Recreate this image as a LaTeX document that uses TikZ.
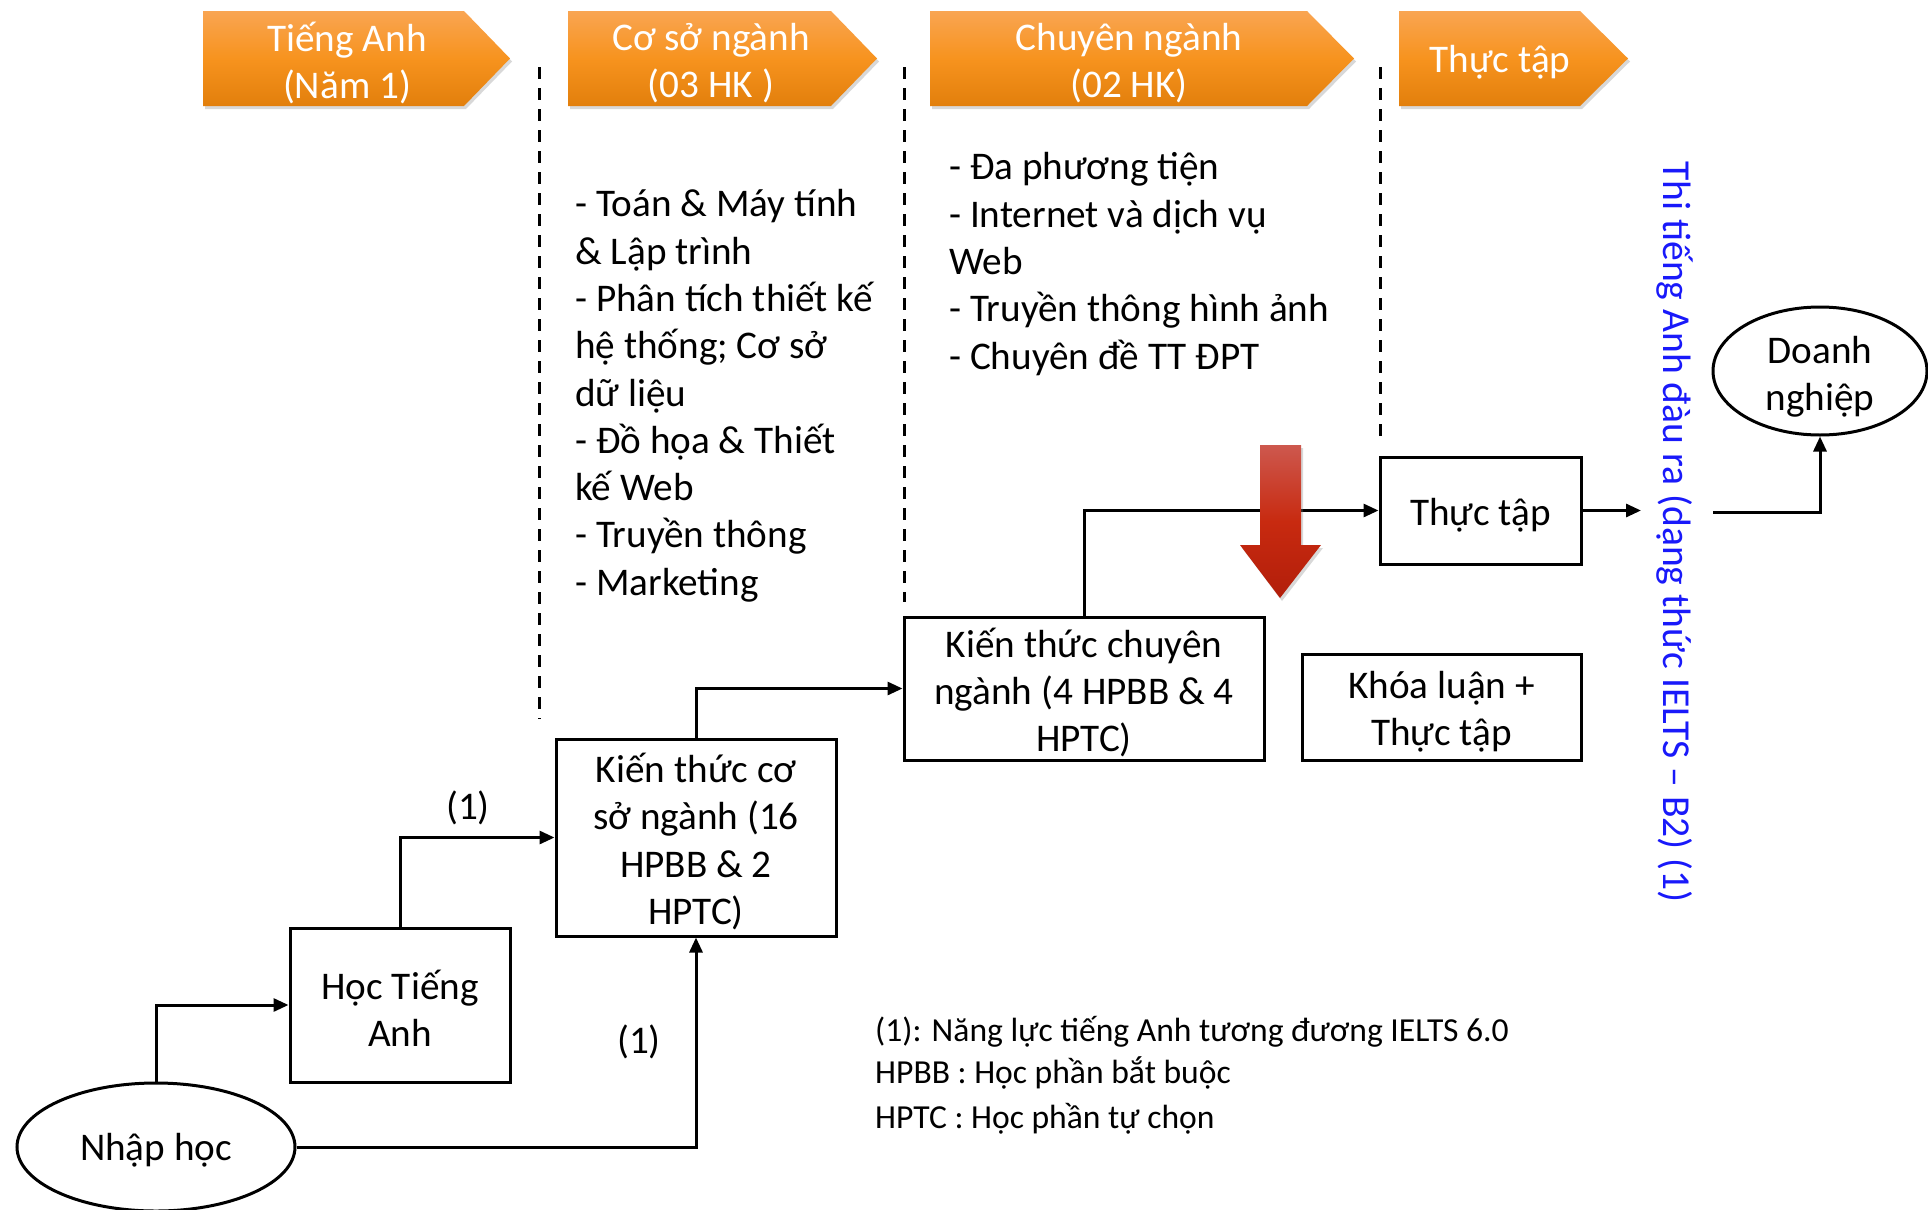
\documentclass[tikz,border=0pt]{standalone}
\usepackage{fontspec}
\setmainfont{Carlito}
\usetikzlibrary{arrows.meta,shapes.geometric,shadows}
\definecolor{orTop}{RGB}{249,165,82}
\definecolor{orMid}{RGB}{247,147,30}
\definecolor{orBot}{RGB}{226,127,12}
\definecolor{rdTop}{RGB}{205,88,78}
\definecolor{rdMid}{RGB}{200,42,16}
\definecolor{rdBot}{RGB}{178,30,10}
\definecolor{txtblue}{RGB}{25,25,250}
\newcommand\bigfont{\fontsize{39.2}{47.3}\selectfont}
\newcommand\notefont{\fontsize{33.6}{42}\selectfont}
\begin{document}
\begin{tikzpicture}[x=1pt,y=-1pt,
  box/.style={draw, line width=3pt, inner sep=0pt},
  oval/.style={draw, ellipse, line width=3pt, inner sep=0pt},
  bt/.style={align=center, inner sep=0pt, font=\bigfont},
  conn/.style={line width=3pt, -{Triangle[length=15pt,width=13pt]}},
  sepline/.style={line width=3pt, dash pattern=on 12pt off 9pt},
  chev/.style={top color=orTop, bottom color=orBot, middle color=orMid,
    drop shadow={opacity=0.3, shadow xshift=2pt, shadow yshift=-3pt}},
  head/.style={text=white, align=center, inner sep=0pt, font=\bigfont},
  list/.style={align=left, inner sep=0pt, anchor=north west, font=\bigfont},
  lbl/.style={inner sep=0pt, font=\bigfont}]
\useasboundingbox (0,0) rectangle (1928,1210);
\fill[white] (0,0) rectangle (1928,1210);

% header chevrons
\path[chev] (203,11) -- (464,11) -- (510,58.5) -- (464,106) -- (203,106) -- cycle;
\path[chev] (568,11) -- (831,11) -- (877,58.5) -- (831,106) -- (568,106) -- cycle;
\path[chev] (930,11) -- (1307,11) -- (1354,58.5) -- (1307,106) -- (930,106) -- cycle;
\path[chev] (1399,11) -- (1580,11) -- (1628,58.5) -- (1580,106) -- (1399,106) -- cycle;
\node[head] (h1) at (347,63) {Tiếng Anh\\(Năm 1)};
\node[head] (h2) at (711,63) {Cơ sở ngành\\(03 HK )};
\node[head] (h3) at (1129,63) {Chuyên ngành\\(02 HK)};
\node[head] (h4) at (1500,62) {Thực tập};

% separators
\coordinate (s1a) at (539,67); \coordinate (s1b) at (539,719);
\coordinate (s2a) at (904,67); \coordinate (s2b) at (904,602);
\coordinate (s3a) at (1380,67); \coordinate (s3b) at (1380,437);
\draw[sepline] (s1a) -- (s1b);
\draw[sepline] (s2a) -- (s2b);
\draw[sepline] (s3a) -- (s3b);

% lists
\node[list] (list2) at (575,183.5) {\strut- Toán \& Máy tính\\\& Lập trình\\- Phân tích thiết kế\\hệ thống; Cơ sở\\dữ liệu\\- Đồ họa \& Thiết\\kế Web\\- Truyền thông\\- Marketing};
\node[list] (list3) at (949,146.5) {\strut- Đa phương tiện\\- Internet và dịch vụ\\Web\\- Truyền thông hình ảnh\\- Chuyên đề TT ĐPT};

% boxes
\node[box, minimum width=220pt, minimum height=154pt,
  label={[bt, yshift=-3pt]center:{Học Tiếng\\Anh}}] (hoc) at (400,1005) {};
\node[box, minimum width=280pt, minimum height=197pt,
  label={[bt, yshift=-4pt]center:{Kiến thức cơ\\sở ngành (16\\HPBB \& 2\\HPTC)}}] (coso) at (696,837.5) {};
\node[box, minimum width=360pt, minimum height=143pt,
  label={[bt, yshift=-4pt]center:{Kiến thức chuyên\\ngành (4 HPBB \& 4\\HPTC)}}] (cn) at (1084,688.5) {};
\node[box, minimum width=279pt, minimum height=106pt,
  label={[bt, yshift=-5pt]center:{Khóa luận +\\Thực tập}}] (kl) at (1441.5,707) {};
\node[box, minimum width=201pt, minimum height=107pt,
  label={[bt, yshift=-5pt]center:{Thực tập}}] (tt) at (1480.5,510.5) {};
\node[oval, minimum width=278pt, minimum height=128pt,
  label={[bt, yshift=-3pt]center:{Nhập học}}] (nhap) at (156,1147) {};
\node[oval, minimum width=214pt, minimum height=128pt,
  label={[bt, yshift=-6pt]center:{Doanh\\nghiệp}}] (dn) at (1820,371) {};

% connectors
\draw[conn] (nhap.north) |- (hoc.west);
\draw[conn] (hoc.north) |- (coso.west);
\draw[conn] (nhap.east) -| (coso.south);
\draw[conn] (coso.north) |- (cn.west);
\draw[conn] (cn.north) |- (tt.west);
\coordinate (ttout) at (1641,510.5);
\draw[conn] (tt.east) -- (ttout);
\coordinate (dnin) at (1713,512);
\draw[conn] (dnin) -| (dn.south);

\node[lbl] (one1) at (468,808) {(1)};
\node[lbl] (one2) at (639,1042) {(1)};

% red arrow
\path[top color=rdTop, bottom color=rdBot, middle color=rdMid,
  drop shadow={opacity=0.3, shadow xshift=2pt, shadow yshift=-3pt}]
  (1260,445) -- (1301,445) -- (1301,545) -- (1321,545) -- (1280,598)
  -- (1240,545) -- (1260,545) -- cycle;

% rotated text
\node[inner sep=0pt, rotate=-90, text=txtblue, font=\fontsize{39.6}{47}\selectfont] (ielts) at (1675,532)
  {Thi tiếng Anh đàu ra (dạng thức IELTS – B2) (1)};

% notes
\node[inner sep=0pt, anchor=north west, align=left, font=\notefont] (notes) at (875,1012)
  {\strut(1): Năng lực tiếng Anh tương đương IELTS 6.0\\HPBB : Học phần bắt buộc\\[3pt]HPTC : Học phần tự chọn};
\end{tikzpicture}
\end{document}
